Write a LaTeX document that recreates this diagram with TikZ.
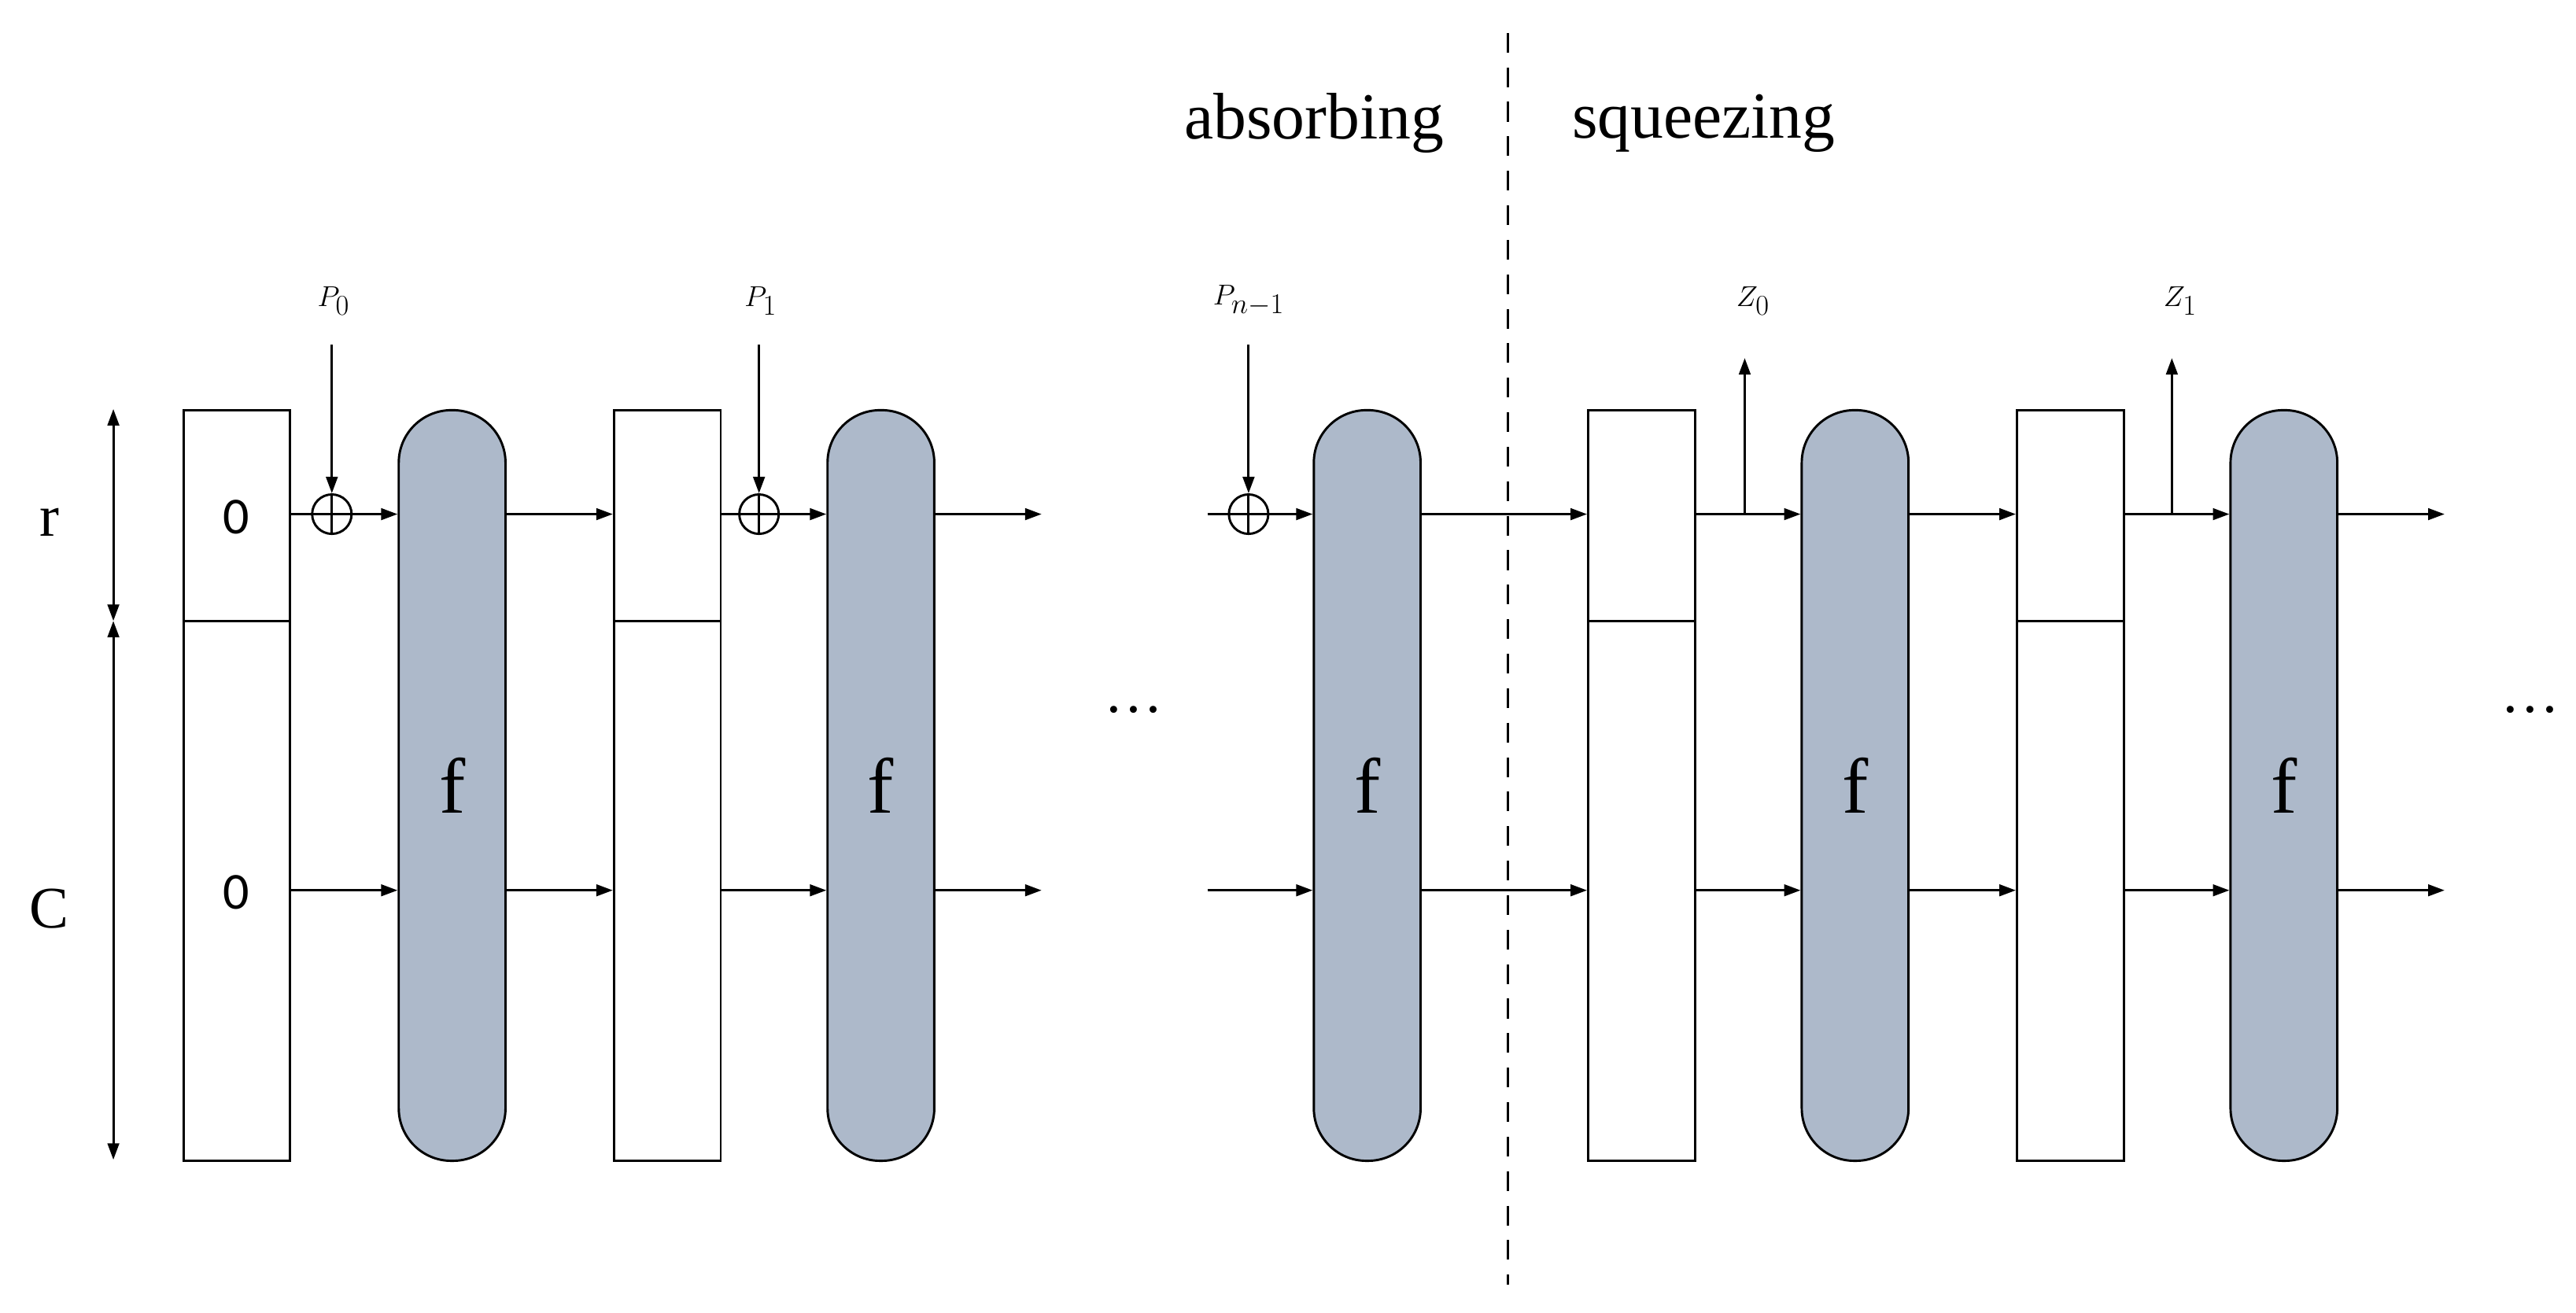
\documentclass[tikz,border=0pt]{standalone}
\usepackage{fontspec}
\setmainfont{Liberation Serif}
\newfontfamily\sansf{Carlito}
\usetikzlibrary{arrows.meta}
\definecolor{pillc}{HTML}{ADB9CA}
\begin{document}
\begin{tikzpicture}[x=0.05cm,y=-0.05cm,line width=2pt,
  box/.style={draw,minimum width=3.25cm,minimum height=22.85cm,inner sep=0,anchor=north west},
  pill/.style={draw,fill=pillc,minimum width=3.25cm,minimum height=22.85cm,rounded corners=1.6cm,inner sep=0,anchor=north west},
  arr/.style={-{Triangle[length=0.5cm,width=0.35cm]}},
  darr/.style={{Triangle[length=0.5cm,width=0.35cm]}-{Triangle[length=0.5cm,width=0.35cm]}},
  xo/.style={draw,circle,minimum size=1.2cm,inner sep=0},
  lab/.style={font=\fontsize{51}{60}\selectfont},
  big/.style={font=\fontsize{57}{66}\selectfont},
  ff/.style={font=\fontsize{68}{80}\selectfont},
  zz/.style={font=\sansf\fontsize{45}{54}\selectfont}]
\useasboundingbox (0,0) rectangle (1568,799);
\coordinate (r) at (0,313); \coordinate (c) at (0,542);
% boxes
\node[box] (b1) at (111,249) {}; \node[box] (b2) at (373,249) {};
\node[box] (b3) at (966,249) {}; \node[box] (b4) at (1227,249) {};
\foreach \b in {b1,b2,b3,b4} \draw (\b.west |- 0,378) -- (\b.east |- 0,378);
\node[zz] (z1) at (144,315) {0}; \node[zz] (z2) at (144,543) {0};
% pills
\foreach \n/\x in {f1/242,f2/503,f3/799,f4/1096,f5/1357}{
  \node[pill] (\n) at (\x,249) {};
  \node[ff] at (\n.center) {f};}
% xors
\node[xo] (x1) at (202,313) {}; \node[xo] (x2) at (462,313) {}; \node[xo] (x3) at (760,313) {};
\foreach \x in {x1,x2,x3}{\draw (\x.north) -- (\x.south); \draw (\x.west) -- (\x.east);}
% inputs
\node[lab] (p0) at (203,183) {$P_0$}; \node[lab] (p1) at (463,183) {$P_1$}; \node[lab] (p2) at (760,183) {$P_{n-1}$};
\draw[arr] (x1 |- 0,210) -- (x1.north); \draw[arr] (x2 |- 0,210) -- (x2.north); \draw[arr] (x3 |- 0,210) -- (x3.north);
% r row
\draw (b1.east |- r) -- (x1.west); \draw[arr] (x1.east) -- (f1.west |- r);
\draw[arr] (f1.east |- r) -- (b2.west |- r);
\draw (b2.east |- r) -- (x2.west); \draw[arr] (x2.east) -- (f2.west |- r);
\coordinate (o1) at (634,313); \draw[arr] (f2.east |- r) -- (o1);
\coordinate (i1) at (735,313); \draw (i1) -- (x3.west); \draw[arr] (x3.east) -- (f3.west |- r);
\draw[arr] (f3.east |- r) -- (b3.west |- r);
\draw[arr] (b3.east |- r) -- (f4.west |- r);
\draw[arr] (f4.east |- r) -- (b4.west |- r);
\draw[arr] (b4.east |- r) -- (f5.west |- r);
\coordinate (o2) at (1488,313); \draw[arr] (f5.east |- r) -- (o2);
% c row
\draw[arr] (b1.east |- c) -- (f1.west |- c);
\draw[arr] (f1.east |- c) -- (b2.west |- c);
\draw[arr] (b2.east |- c) -- (f2.west |- c);
\coordinate (o3) at (634,542); \draw[arr] (f2.east |- c) -- (o3);
\coordinate (i2) at (735,542); \draw[arr] (i2) -- (f3.west |- c);
\draw[arr] (f3.east |- c) -- (b3.west |- c);
\draw[arr] (b3.east |- c) -- (f4.west |- c);
\draw[arr] (f4.east |- c) -- (b4.west |- c);
\draw[arr] (b4.east |- c) -- (f5.west |- c);
\coordinate (o4) at (1488,542); \draw[arr] (f5.east |- c) -- (o4);
% outputs
\coordinate (zs0) at (1062,313); \coordinate (zs1) at (1322,313);
\draw[arr] (zs0) -- (1062,218); \draw[arr] (zs1) -- (1322,218);
\node[lab] (zl0) at (1067,183) {$Z_0$}; \node[lab] (zl1) at (1327,183) {$Z_1$};
% dots
\node[lab] (d1) at (690,432) {\dots}; \node[lab] (d2) at (1540,432) {\dots};
% dashed
\draw[dashed,dash pattern=on 0.6cm off 0.45cm] (918,20) -- (918,782);
\node[big] (ab) at (800,75) {absorbing}; \node[big] (sq) at (1037,75) {squeezing};
% dims
\draw[darr] (69,249) -- (69,378); \draw[darr] (69,378) -- (69,706);
\node[lab] (rl) at (30,318) {r}; \node[lab] (cl) at (30,553) {C};
\end{tikzpicture}
\end{document}
